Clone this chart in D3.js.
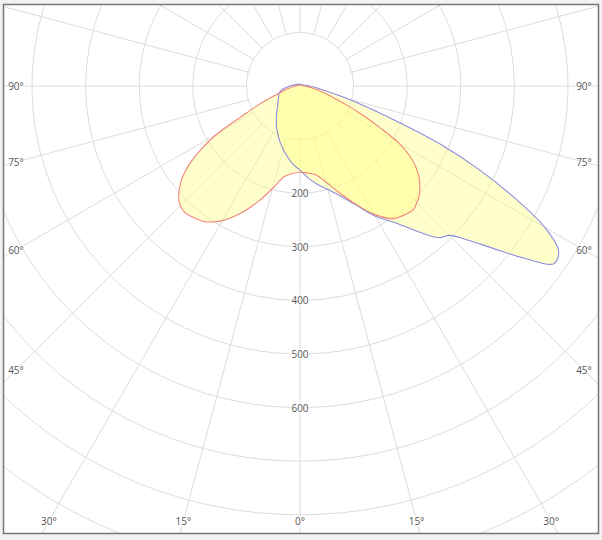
<!DOCTYPE html>
<html>
<head>
<meta charset="utf-8">
<script src="https://cdn.jsdelivr.net/npm/d3@7"></script>
<style>
  html, body { margin: 0; padding: 0; background: #f2f2f2; }
  svg { display: block; }
  text { font-family: "Open Sans", "DejaVu Sans", sans-serif; }
</style>
</head>
<body>
<script>
// ---- data (luminous intensity, cd, vs. gamma angle in degrees from nadir) ----
const gamma = [0,5,10,15,20,25,30,35,40,42.5,45,47.5,50,52.5,55,57.5,60,62.5,65,67.5,70,75,80,85,90,100,120,140,160,180];
// C0 / C180 plane (red curve)
const c0   = [161,163,168,185,211,242,276,302,311,313,308,302,292,280,264,243,213,168,131,98,72,42,25,14,8,5,3,2,2,2];
const c180 = [161,164,172,198,230,262,290,309,317,319,316,307,293,275,250,218,178,122,92,66,46,30,19,12,8,5,3,2,2,2];
// C90 / C270 plane (blue curve)
const c90  = [157,172,186,200,218,244,280,312,360,384,394,426,472,528,578,572,527,450,368,282,192,92,44,28,18,9,5,4,3,2];
const c270 = [157,147,134,122,110,98,88,77,68,64,60,57,54,52,50,48,47,45,44,43,42,38,32,25,19,11,6,4,3,2];

const gridCircles = [100,200,300,400,500,600,700,800,900,1000,1100];
const radialLabels = [200,300,400,500,600];
const spokeAngles = d3.range(0, 360, 15);          // every 15 degrees
const angleLabels = [0,15,30,45,60,75,90];

// ---- layout ----
const W = 602, H = 540;
const frame = {x: 3.5, y: 4.5, w: 595, h: 529};
const cx = 300, cy = 86;
const r = d3.scaleLinear().domain([0, 1000]).range([0, 536]);

const svg = d3.select("body").append("svg").attr("width", W).attr("height", H);

svg.append("defs").append("clipPath").attr("id", "clip")
  .append("rect").attr("x", frame.x).attr("y", frame.y).attr("width", frame.w).attr("height", frame.h);

svg.append("rect").attr("x", frame.x).attr("y", frame.y).attr("width", frame.w).attr("height", frame.h)
  .attr("fill", "#fff");

const g = svg.append("g").attr("clip-path", "url(#clip)");
const c = g.append("g").attr("transform", `translate(${cx},${cy})`);

// grid circles
c.selectAll("circle.grid").data(gridCircles).join("circle")
  .attr("class", "grid").attr("r", d => r(d))
  .attr("fill", "none").attr("stroke", "#dcdcdc").attr("stroke-width", 1);

// spokes (angle measured from nadir, clockwise on screen toward the right)
const rad = d => d * Math.PI / 180;
c.selectAll("line.spoke").data(spokeAngles).join("line")
  .attr("class", "spoke")
  .attr("x1", d => r(100) * Math.sin(rad(d)))
  .attr("y1", d => r(100) * Math.cos(rad(d)))
  .attr("x2", d => r(1200) * Math.sin(rad(d)))
  .attr("y2", d => r(1200) * Math.cos(rad(d)))
  .attr("stroke", "#dcdcdc").attr("stroke-width", 1);

// curves
function planePoints(right, left) {
  const pts = [];
  gamma.forEach((gm, i) => pts.push([Math.PI - rad(gm), r(right[i])]));
  for (let i = gamma.length - 2; i >= 1; i--) pts.push([Math.PI + rad(gamma[i]), r(left[i])]);
  return pts;
}
const radial = d3.lineRadial().angle(d => d[0]).radius(d => d[1])
  .curve(d3.curveCatmullRomClosed.alpha(0.5));

const planes = [
  {pts: planePoints(c90, c270), stroke: "#8c8ce0"},
  {pts: planePoints(c0, c180), stroke: "#f0857a"}
];
c.selectAll("path.fill").data(planes).join("path")
  .attr("class", "fill").attr("d", d => radial(d.pts))
  .attr("fill", "#ffff80").attr("fill-opacity", 0.4).attr("stroke", "none");
c.selectAll("path.line").data(planes).join("path")
  .attr("class", "line").attr("d", d => radial(d.pts))
  .attr("fill", "none").attr("stroke", d => d.stroke).attr("stroke-width", 1.1);

// radial value labels
c.selectAll("text.rl").data(radialLabels).join("text")
  .attr("class", "rl").attr("x", 0).attr("y", d => r(d))
  .attr("text-anchor", "middle").attr("dominant-baseline", "central")
  .attr("font-size", 10).attr("fill", "#555")
  .attr("stroke", "#fff").attr("stroke-width", 2).attr("paint-order", "stroke")
  .text(d => d);

// angle labels at the frame
const halfW = 284, maxDy = 435;
const labelPos = [];
angleLabels.forEach(a => {
  const s = Math.sin(rad(a)), co = Math.cos(rad(a));
  let t = Infinity;
  if (s > 1e-9) t = Math.min(t, halfW / s);
  if (co > 1e-9) t = Math.min(t, maxDy / co);
  [1, -1].forEach(side => {
    if (a === 0 && side === -1) return;
    labelPos.push({a, x: side * t * s, y: t * co});
  });
});
c.selectAll("text.al").data(labelPos).join("text")
  .attr("class", "al").attr("x", d => d.x).attr("y", d => d.y)
  .attr("text-anchor", "middle").attr("dominant-baseline", "central")
  .attr("font-size", 10).attr("fill", "#555")
  .attr("stroke", "#fff").attr("stroke-width", 2).attr("paint-order", "stroke")
  .text(d => d.a + "°");

// frame border
svg.append("rect").attr("x", frame.x).attr("y", frame.y).attr("width", frame.w).attr("height", frame.h)
  .attr("fill", "none").attr("stroke", "#777").attr("stroke-width", 1.5);
</script>
</body>
</html>
